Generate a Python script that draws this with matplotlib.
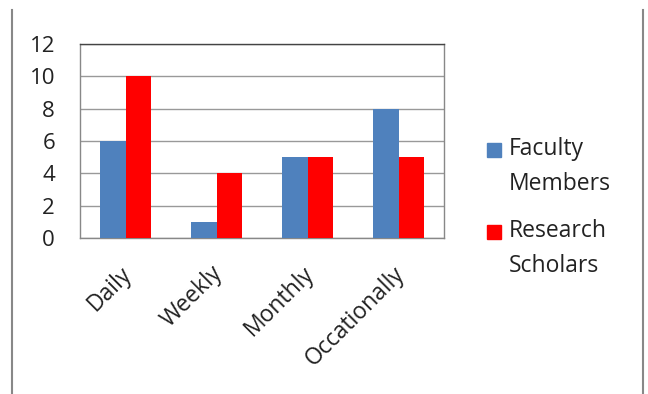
import numpy as np
import matplotlib.pyplot as plt
from matplotlib.lines import Line2D
from matplotlib.patches import Rectangle
from matplotlib.transforms import ScaledTranslation

# survey data: how often the resource is used
categories = ["Daily", "Weekly", "Monthly", "Occationally"]
faculty = [6, 1, 5, 8]
scholars = [10, 4, 5, 5]
series_names = ["Faculty\nMembers", "Research\nScholars"]
yticks = [0, 2, 4, 6, 8, 10, 12]

blue = "#4f81bd"
red = "#ff0000"
txt = "#222222"
fs = 16.5

plt.rcParams['font.family'] = ['Open Sans', 'DejaVu Sans']

W, H = 648, 394
fig = plt.figure(figsize=(W / 100, H / 100), dpi=100)
ax = fig.add_axes([80 / W, 1 - 238 / H, (444 - 80) / W, (238 - 44) / H])

x = np.arange(len(categories))
w = 0.28
ax.bar(x - w / 2, faculty, w, color=blue, zorder=3)
ax.bar(x + w / 2, scholars, w, color=red, zorder=3)

ax.set_xlim(-0.5, len(categories) - 0.5)
ax.set_ylim(0, 12)
ax.set_yticks(yticks)
ax.tick_params(axis='y', length=0, labelsize=fs - 0.5, pad=18, colors=txt)
ax.set_xticks(x)
ax.set_xticklabels(categories, rotation=45, ha='right', rotation_mode='anchor',
                   fontsize=fs, color=txt)
ax.tick_params(axis='x', length=0, pad=17)
shift = ScaledTranslation(-4 / 72, 0, fig.dpi_scale_trans)
for lab in ax.get_xticklabels():
    lab.set_transform(lab.get_transform() + shift)
ax.grid(axis='y', color="#999999", linewidth=1, zorder=0)
for s in ax.spines.values():
    s.set_color("#888888")
    s.set_linewidth(1)
ax.spines['top'].set_color("#444444")

# legend drawn by hand: square beside the first line of each label
for i, (name, col) in enumerate(zip(series_names, [blue, red])):
    top = 143 + i * 82
    fig.add_artist(Rectangle((487 / W, 1 - (top + 14) / H), 14 / W, 14 / H,
                             color=col, transform=fig.transFigure))
    fig.text(509 / W, 1 - (top - 6) / H, name, fontsize=fs, color=txt,
             va='top', ha='left', linespacing=1.6)

# outer frame lines on left and right
for xp in (11.5, 642.5):
    fig.add_artist(Line2D([xp / W, xp / W], [0, 1 - 10 / H],
                          color="#888888", linewidth=1.5, transform=fig.transFigure))

fig.savefig("out.png", dpi=100)
